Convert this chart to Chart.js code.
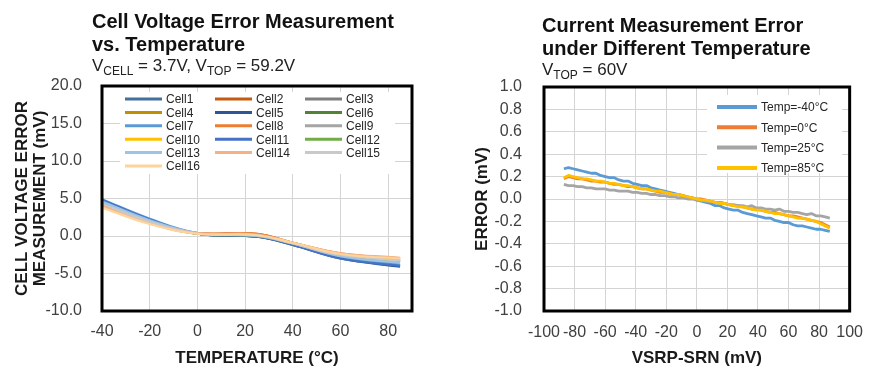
<!DOCTYPE html>
<html>
<head>
<meta charset="utf-8">
<script src="https://cdn.jsdelivr.net/npm/chart.js@4.4.1/dist/chart.umd.min.js"></script>
<style>
body { margin: 0; background: #fff; font-family: "Liberation Sans", Arial, sans-serif; }
#page { position: relative; width: 875px; height: 368px; overflow: hidden; background: #fff; }
canvas { position: absolute; top: 0; }
#leftChart { left: 0; }
#rightChart { left: 437px; }
.title { position: absolute; font-weight: bold; font-size: 20px; line-height: 22.5px; color: #111; white-space: nowrap; }
.sub { position: absolute; font-size: 17px; line-height: 20px; color: #222; white-space: nowrap; }
.sub span { font-size: 12px; line-height: 1; vertical-align: -4px; }
</style>
</head>
<body>
<div id="page">
	<canvas id="leftChart" width="437" height="368"></canvas>
	<canvas id="rightChart" width="438" height="368"></canvas>
	<div class="title" style="left:92px; top:10px">Cell Voltage Error Measurement<br>vs. Temperature</div>
	<div class="sub" style="left:92px; top:56px">V<span>CELL</span> = 3.7V, V<span>TOP</span> = 59.2V</div>
	<div class="title" style="left:542px; top:14px">Current Measurement Error<br>under Different Temperature</div>
	<div class="sub" style="left:542px; top:60px">V<span>TOP</span> = 60V</div>
</div>
<script>
"use strict"

// VARIABLES -----------------------
// left chart: cell error (mV) vs temperature (°C)
const temps = [-40, -20, 0, 25, 40, 60, 85]

const cell1 = [4.7, 2.2, 0.3, -0.1, -1.1, -2.9, -3.9]
const cell2 = [4.2, 1.9, 0.4, 0.3, -0.9, -2.4, -3.0]
const cell3 = [4.4, 2.0, 0.3, 0.1, -1.0, -2.5, -3.3]
const cell4 = [4.0, 1.7, 0.3, 0.1, -0.9, -2.5, -3.2]
const cell5 = [4.8, 2.2, 0.3, -0.1, -1.2, -3.0, -4.1]
const cell6 = [4.5, 2.0, 0.3, 0.0, -1.0, -2.6, -3.4]
const cell7 = [4.9, 2.3, 0.4, 0.0, -1.1, -2.8, -3.8]
const cell8 = [4.1, 1.8, 0.4, 0.3, -0.9, -2.3, -3.0]
const cell9 = [4.4, 2.0, 0.3, 0.1, -1.0, -2.6, -3.4]
const cell10 = [3.9, 1.7, 0.3, 0.1, -0.9, -2.4, -3.1]
const cell11 = [4.8, 2.2, 0.3, -0.1, -1.2, -3.0, -4.0]
const cell12 = [4.5, 2.0, 0.3, 0.0, -1.0, -2.6, -3.5]
const cell13 = [4.6, 2.1, 0.4, 0.0, -1.0, -2.7, -3.6]
const cell14 = [4.0, 1.8, 0.4, 0.2, -0.9, -2.3, -2.9]
const cell15 = [4.3, 1.9, 0.3, 0.1, -1.0, -2.5, -3.3]
const cell16 = [3.8, 1.6, 0.3, 0.1, -0.9, -2.4, -3.0]

const cellSeries = [cell1, cell2, cell3, cell4, cell5, cell6, cell7, cell8,
	cell9, cell10, cell11, cell12, cell13, cell14, cell15, cell16]

const cellNames = ["Cell1", "Cell2", "Cell3", "Cell4", "Cell5", "Cell6", "Cell7", "Cell8",
	"Cell9", "Cell10", "Cell11", "Cell12", "Cell13", "Cell14", "Cell15", "Cell16"]

const cellColors = [
	"#41719C", "#C55A11", "#7F7F7F", "#BF9000", "#2F5597", "#548235",
	"#5B9BD5", "#ED7D31", "#A5A5A5", "#FFC000", "#4472C4", "#70AD47",
	"#9DC3E6", "#F4B183", "#C9C9C9", "#FFD39B",
]

// right chart: current error (mV) vs VSRP-SRN (mV)
const vsrp = [-87, -84, -81, -78, -75, -72, -69, -66, -63, -60, -57, -54, -51, -48, -45,
	-42, -39, -36, -33, -30, -27, -24, -21, -18, -15, -12, -9, -6, -3, 0,
	3, 6, 9, 12, 15, 18, 21, 24, 27, 30, 33, 36, 39, 42, 45,
	48, 51, 54, 57, 60, 63, 66, 69, 72, 75, 78, 81, 84, 87]

const tempM40 = [0.27, 0.28, 0.27, 0.26, 0.25, 0.24, 0.23, 0.23, 0.21, 0.20,
	0.19, 0.19, 0.17, 0.16, 0.16, 0.14, 0.13, 0.12, 0.12, 0.10,
	0.09, 0.08, 0.07, 0.06, 0.05, 0.04, 0.03, 0.01, 0.01, -0.01,
	-0.02, -0.03, -0.04, -0.06, -0.06, -0.08, -0.09, -0.10, -0.10, -0.12,
	-0.13, -0.14, -0.15, -0.16, -0.17, -0.17, -0.19, -0.20, -0.21, -0.21,
	-0.23, -0.24, -0.24, -0.25, -0.26, -0.27, -0.27, -0.28, -0.29]

const temp0 = [0.18, 0.20, 0.19, 0.18, 0.18, 0.17, 0.16, 0.16, 0.15, 0.15,
	0.14, 0.13, 0.13, 0.12, 0.11, 0.11, 0.10, 0.09, 0.09, 0.08,
	0.07, 0.06, 0.06, 0.05, 0.04, 0.04, 0.03, 0.02, 0.01, 0.00,
	0.00, -0.01, -0.02, -0.03, -0.03, -0.04, -0.05, -0.06, -0.06, -0.07,
	-0.08, -0.09, -0.09, -0.10, -0.11, -0.12, -0.12, -0.13, -0.14, -0.15,
	-0.15, -0.16, -0.17, -0.18, -0.19, -0.20, -0.21, -0.23, -0.25]

const temp25 = [0.13, 0.12, 0.12, 0.11, 0.11, 0.10, 0.10, 0.09, 0.09, 0.09,
	0.08, 0.08, 0.07, 0.07, 0.07, 0.06, 0.06, 0.05, 0.05, 0.04,
	0.04, 0.03, 0.03, 0.02, 0.02, 0.01, 0.01, 0.00, 0.00, -0.01,
	-0.01, -0.02, -0.02, -0.03, -0.03, -0.04, -0.05, -0.05, -0.06, -0.06,
	-0.07, -0.06, -0.08, -0.08, -0.09, -0.09, -0.10, -0.09, -0.11, -0.11,
	-0.12, -0.12, -0.13, -0.14, -0.13, -0.15, -0.15, -0.16, -0.17]

const temp85 = [0.19, 0.21, 0.20, 0.19, 0.18, 0.18, 0.17, 0.16, 0.16, 0.15,
	0.14, 0.14, 0.13, 0.12, 0.12, 0.11, 0.10, 0.09, 0.09, 0.08,
	0.07, 0.07, 0.06, 0.05, 0.04, 0.04, 0.03, 0.02, 0.01, 0.00,
	-0.01, -0.01, -0.02, -0.03, -0.04, -0.04, -0.05, -0.06, -0.07, -0.07,
	-0.08, -0.09, -0.10, -0.10, -0.11, -0.12, -0.13, -0.13, -0.14, -0.15,
	-0.16, -0.17, -0.17, -0.18, -0.19, -0.20, -0.22, -0.24, -0.26]

const tempSeries = [tempM40, temp0, temp25, temp85]
const tempNames = ["Temp=-40°C", "Temp=0°C", "Temp=25°C", "Temp=85°C"]
const tempColors = ["#5B9BD5", "#ED7D31", "#A5A5A5", "#FFC000"]

const tickColor = "#404040"
const titleColor = "#1a1a1a"
const gridColor = "#D4D4D4"

Chart.defaults.font.family = "'Liberation Sans', Arial, sans-serif"

// PLUGINS -----------------------
// black box around the plot area
const frameBox = {
	id: "frameBox",
	afterDatasetsDraw(chart) {
		const a = chart.chartArea
		const ctx = chart.ctx
		ctx.save()
		ctx.strokeStyle = "#000"
		ctx.lineWidth = 3
		ctx.strokeRect(a.left, a.top, a.right - a.left, a.bottom - a.top)
		ctx.restore()
	},
}

// legend drawn inside the plot, grid of rows x cols
const boxLegend = {
	id: "boxLegend",
	afterDraw(chart, args, opts) {
		const ctx = chart.ctx
		ctx.save()
		ctx.fillStyle = "#fff"
		ctx.fillRect(opts.x, opts.y, opts.w, opts.h)
		ctx.font = "12px 'Liberation Sans', Arial, sans-serif"
		ctx.textBaseline = "middle"
		chart.data.datasets.forEach((ds, i) => {
			const col = i % opts.cols
			const row = Math.floor(i / opts.cols)
			const lx = opts.x + opts.padX + col * opts.colW
			const ly = opts.y + opts.padY + row * opts.rowH
			ctx.strokeStyle = ds.borderColor
			ctx.lineWidth = opts.lineW
			ctx.beginPath()
			ctx.moveTo(lx, ly)
			ctx.lineTo(lx + opts.lineLen, ly)
			ctx.stroke()
			ctx.fillStyle = "#262626"
			ctx.fillText(ds.label, lx + opts.lineLen + 4, ly + 1)
		})
		ctx.restore()
	},
}

function fmt(v) {
	if (Math.abs(v) < 1e-9) return "0.0"
	return v.toFixed(1)
}

// CHARTS -----------------------
const leftChart = new Chart(document.getElementById("leftChart"), {
	type: "line",
	data: {
		datasets: cellSeries.map((s, i) => ({
			label: cellNames[i],
			data: temps.map((t, j) => ({ x: t, y: s[j] })),
			borderColor: cellColors[i],
			borderWidth: 2.25,
			pointRadius: 0,
			tension: 0.4,
			order: 16 - i,
		})),
	},
	options: {
		responsive: false,
		animation: false,
		devicePixelRatio: 1,
		layout: { padding: { top: 86, right: 25, left: 0, bottom: 0 }, autoPadding: false },
		plugins: {
			legend: { display: false },
			tooltip: { enabled: false },
			boxLegend: {
				x: 120, y: 92, w: 275, h: 82, padX: 5, padY: 7,
				cols: 3, colW: 90, rowH: 13.4, lineLen: 37, lineW: 3,
			},
		},
		scales: {
			x: {
				type: "linear",
				min: -40,
				max: 90,
				afterFit: (s) => { s.height = 57 },
				ticks: {
					stepSize: 20, includeBounds: false, padding: 11, maxRotation: 0, autoSkip: false,
					color: tickColor, font: { size: 16 },
				},
				grid: { color: gridColor, drawTicks: false },
				border: { display: false },
				title: {
					display: true,
					text: "TEMPERATURE (°C)",
					color: titleColor,
					font: { size: 17, weight: "bold", lineHeight: 1.06 },
					padding: { top: 0, bottom: 1 },
				},
			},
			y: {
				min: -10,
				max: 20,
				afterFit: (s) => { s.width = 102 },
				ticks: { stepSize: 5, padding: 20, color: tickColor, font: { size: 16 }, callback: fmt },
				grid: { color: gridColor, drawTicks: false },
				border: { display: false },
				title: {
					display: true,
					text: ["CELL VOLTAGE ERROR", "MEASUREMENT (mV)"],
					color: titleColor,
					font: { size: 17, weight: "bold", lineHeight: 1.06 },
					padding: { top: 13, bottom: 0 },
				},
			},
		},
	},
	plugins: [frameBox, boxLegend],
})

const rightChart = new Chart(document.getElementById("rightChart"), {
	type: "line",
	data: {
		datasets: tempSeries.map((s, i) => ({
			label: tempNames[i],
			data: vsrp.map((v, j) => ({ x: v, y: s[j] })),
			borderColor: tempColors[i],
			borderWidth: 2.8,
			borderJoinStyle: "round",
			pointRadius: 0,
			tension: 0,
			order: 4 - i,
		})),
	},
	options: {
		responsive: false,
		animation: false,
		devicePixelRatio: 1,
		layout: { padding: { top: 87, right: 15, left: 0, bottom: 0 }, autoPadding: false },
		plugins: {
			legend: { display: false },
			tooltip: { enabled: false },
			boxLegend: {
				x: 270, y: 95, w: 135, h: 78, padX: 10, padY: 12,
				cols: 1, colW: 0, rowH: 20.3, lineLen: 40, lineW: 4,
			},
		},
		scales: {
			x: {
				type: "linear",
				min: -100,
				max: 100,
				afterFit: (s) => { s.height = 57 },
				ticks: {
					stepSize: 20, padding: 12, minRotation: 0, maxRotation: 0, autoSkip: false,
					color: tickColor, font: { size: 16 },
				},
				grid: { color: gridColor, drawTicks: false },
				border: { display: false },
				title: {
					display: true,
					text: "VSRP-SRN (mV)",
					color: titleColor,
					font: { size: 17, weight: "bold", lineHeight: 1.06 },
					padding: { top: 0, bottom: 1 },
				},
			},
			y: {
				min: -1,
				max: 1,
				afterFit: (s) => { s.width = 107 },
				ticks: { stepSize: 0.2, padding: 22, color: tickColor, font: { size: 16 }, callback: fmt },
				grid: { color: gridColor, drawTicks: false },
				border: { display: false },
				title: {
					display: true,
					text: "ERROR (mV)",
					color: titleColor,
					font: { size: 17, weight: "bold", lineHeight: 1.06 },
					padding: { top: 36, bottom: 0 },
				},
			},
		},
	},
	plugins: [frameBox, boxLegend],
})
</script>
</body>
</html>
